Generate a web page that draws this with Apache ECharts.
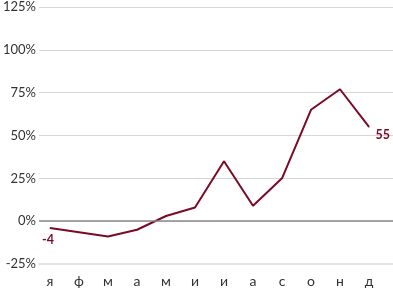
<!DOCTYPE html>
<html><head><meta charset="utf-8">
<script src="https://cdn.jsdelivr.net/npm/echarts@6/dist/echarts.min.js"></script>
<style>html,body{margin:0;padding:0;background:#fff}#c{width:393px;height:290px}</style>
</head><body><div id="c"></div>
<script>
var categories = ['я','ф','м','а','м','и','и','а','с','о','н','д'];
var values = [-4, -6.5, -9, -5, 3, 8, 35, 9, 25, 65, 77, 55];
var yTicks = [-25, 0, 25, 50, 75, 100, 125];

var FONT = 'Lato';
var RED = '#7a0a25';
var chart = echarts.init(document.getElementById('c'), null, {renderer: 'canvas'});
var last = values.length - 1;
var yMin = yTicks[0], yMax = yTicks[yTicks.length - 1];
var data = values.map(function (v, i) {
  var item = {value: v};
  if (i === 0) item.label = {position: 'bottom', offset: [-2, 0]};
  if (i === last) item.label = {position: 'right', offset: [1, 8]};
  return item;
});
chart.setOption({
  animation: false,
  grid: [
    {left: 33, right: 0, top: 7, bottom: 26},
    {left: 35.5, right: 9.5, top: 7, bottom: 26}
  ],
  xAxis: [{
    gridIndex: 0, type: 'value', min: 0, max: 1,
    axisLine: {show: true, onZero: false, lineStyle: {color: '#e2e2e2', width: 2}},
    axisTick: {show: false}, splitLine: {show: false}, axisLabel: {show: false}
  }, {
    gridIndex: 1, type: 'category', data: categories, boundaryGap: true,
    axisLine: {show: false}, axisTick: {show: false}, splitLine: {show: false},
    axisLabel: {margin: 10, color: '#333', fontFamily: FONT, fontSize: 14, interval: 0}
  }],
  yAxis: [{
    gridIndex: 0, type: 'value', min: yMin, max: yMax, interval: 25,
    axisLine: {show: false}, axisTick: {show: false},
    splitLine: {lineStyle: {color: '#d6d6d6', width: 1}},
    axisLabel: {margin: 3, color: '#333', fontFamily: FONT, fontSize: 13,
      formatter: function (v) { return v + '%'; }}
  }, {
    gridIndex: 1, type: 'value', min: yMin, max: yMax, interval: 25,
    axisLine: {show: false}, axisTick: {show: false}, splitLine: {show: false}, axisLabel: {show: false}
  }],
  series: [{
    type: 'line', xAxisIndex: 0, yAxisIndex: 0, data: [],
    markLine: {silent: true, symbol: 'none', label: {show: false},
      lineStyle: {color: '#8a8a8a', width: 1.5, type: 'solid'},
      data: [{yAxis: 0}]}
  }, {
    type: 'line', xAxisIndex: 1, yAxisIndex: 1, data: data,
    symbol: 'circle', symbolSize: 1, showSymbol: true, showAllSymbol: true,
    itemStyle: {color: RED},
    lineStyle: {color: RED, width: 2},
    label: {show: true, color: RED, fontFamily: FONT, fontWeight: 'bold', fontSize: 12.5,
      formatter: function (p) { return (p.dataIndex === 0 || p.dataIndex === last) ? String(p.value) : ''; }},
    z: 3
  }]
});
</script></body></html>
